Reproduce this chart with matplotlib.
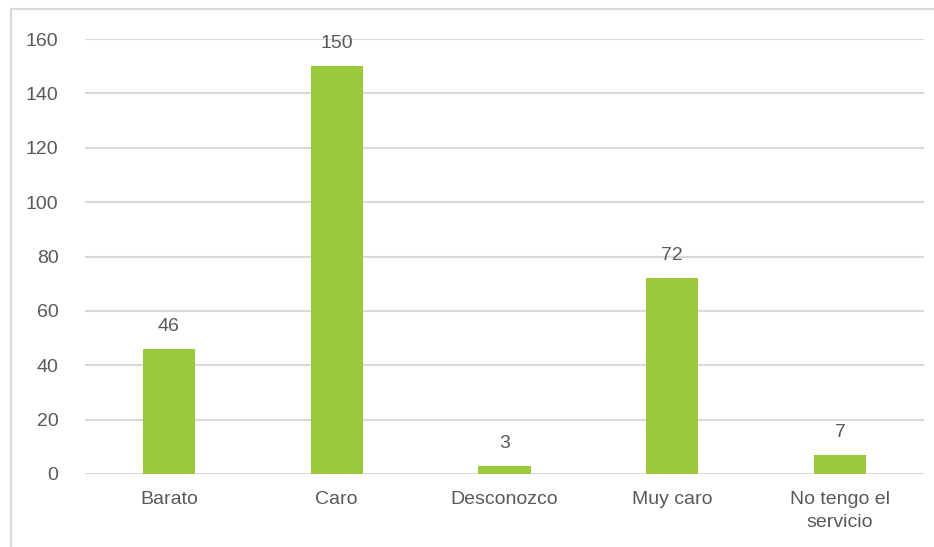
import matplotlib.pyplot as plt
import matplotlib.patches as patches

# datos
categorias = ["Barato", "Caro", "Desconozco", "Muy caro", "No tengo el\nservicio"]
valores = [46, 150, 3, 72, 7]
yticks = [0, 20, 40, 60, 80, 100, 120, 140, 160]

verde = "#9ACA3C"
gris_txt = "#595959"
gris_lin = "#D9D9D9"

plt.rcParams['font.family'] = ['Liberation Sans', 'DejaVu Sans']

fig = plt.figure(figsize=(9.34, 5.47), dpi=100)
ax = fig.add_axes([85/934, 1-474/547, 839/934, 435/547])

x = list(range(len(categorias)))
bars = ax.bar(x, valores, width=0.31, color=verde, zorder=3)

for b, v in zip(bars, valores):
    ax.annotate(str(v), (b.get_x()+b.get_width()/2, v), xytext=(0, 10),
                textcoords="offset points", ha="center", va="bottom",
                fontsize=14, color=gris_txt)

ax.set_xlim(-0.5, len(categorias)-0.5)
ax.set_ylim(0, 160)
ax.set_yticks(yticks)
ax.set_xticks(x)
ax.set_xticklabels(categorias, fontsize=14, color=gris_txt, linespacing=1.5)
ax.tick_params(axis='y', labelsize=14, labelcolor=gris_txt, length=0, pad=19)
ax.tick_params(axis='x', length=0, pad=12)
ax.yaxis.grid(True, color=gris_lin, linewidth=1.5, zorder=0)
for s in ax.spines.values():
    s.set_visible(False)

# marco del grafico (recortado)
marco = patches.Rectangle((11/934, -0.1), 1.2, 1.1-9/547, transform=fig.transFigure,
                          fill=False, edgecolor=gris_lin, linewidth=1.5)
fig.patches.append(marco)

fig.savefig("out.png", dpi=100)
